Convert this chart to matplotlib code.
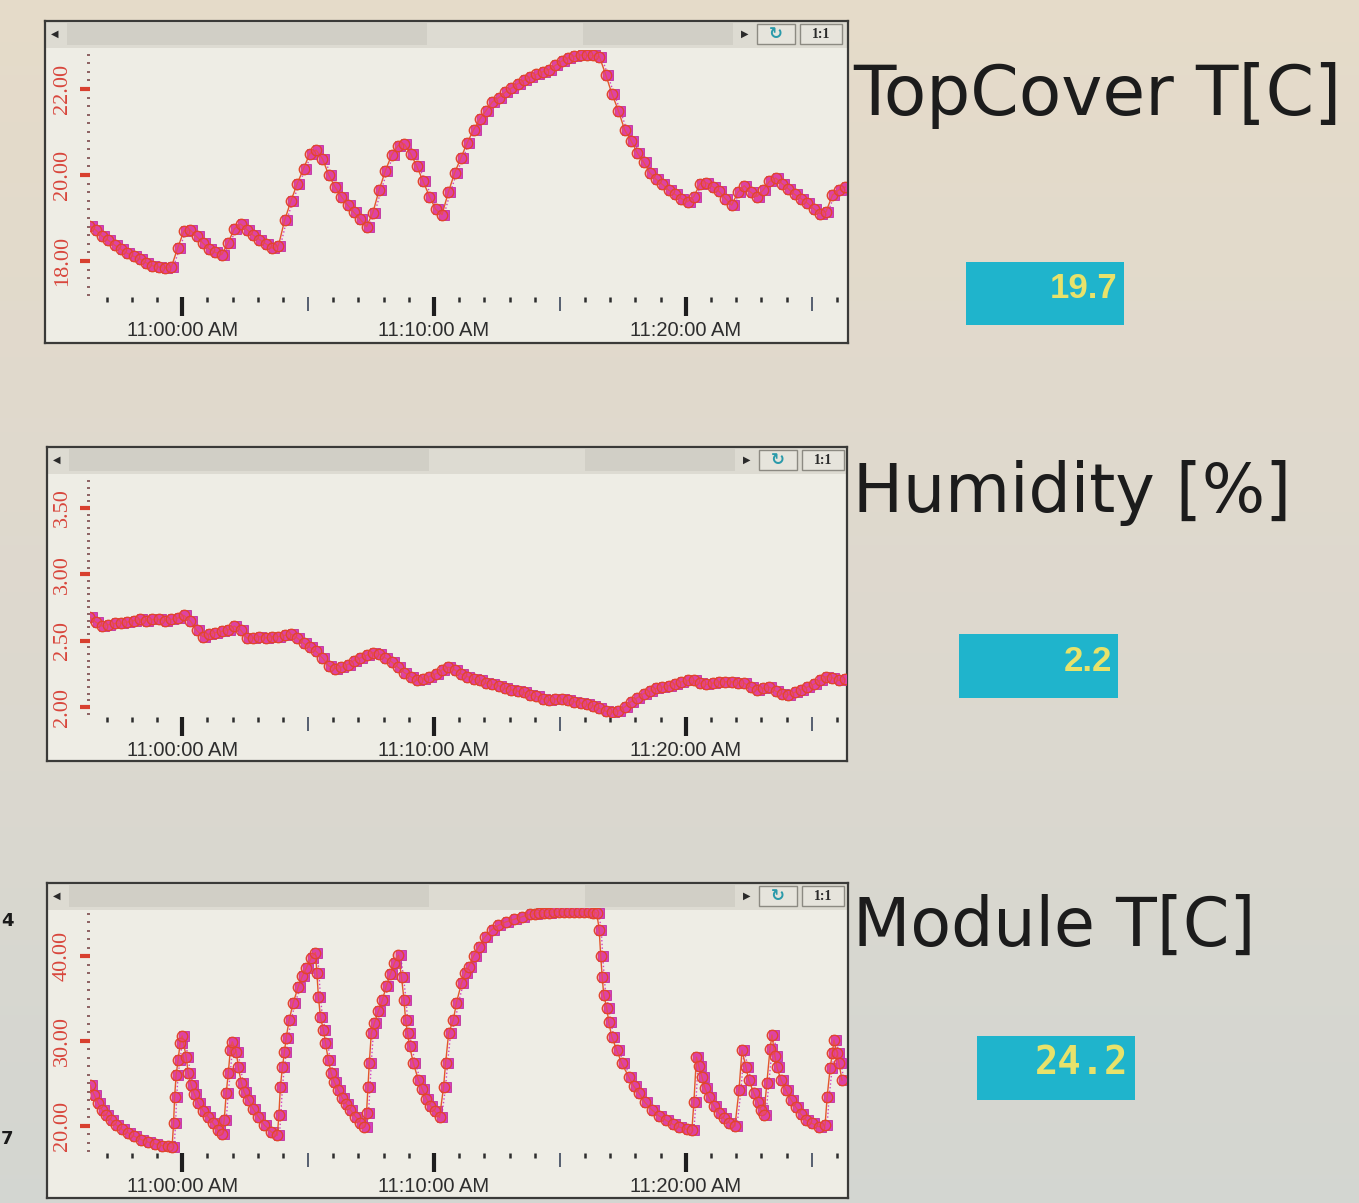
import matplotlib.pyplot as plt
import numpy as np
from matplotlib.patches import Rectangle
from matplotlib.ticker import FixedLocator, FuncFormatter

W, H = 1359, 1203

# slow channels are logged every 15 s; x is minutes after 11:00:00
sample_minutes = np.arange(121) * 0.25 - 3.6

topcover_values = [
    18.82, 18.72, 18.58, 18.48, 18.37, 18.27, 18.18, 18.11, 18.05, 17.96,
    17.89, 17.86, 17.84, 17.86, 18.30, 18.70, 18.72, 18.57, 18.42, 18.28,
    18.20, 18.15, 18.42, 18.75, 18.86, 18.73, 18.60, 18.50, 18.40, 18.30,
    18.35, 18.95, 19.40, 19.80, 20.15, 20.50, 20.58, 20.38, 20.00, 19.72,
    19.50, 19.30, 19.13, 18.97, 18.80, 19.12, 19.65, 20.10, 20.47, 20.68,
    20.72, 20.50, 20.20, 19.85, 19.50, 19.20, 19.08, 19.60, 20.05, 20.40,
    20.75, 21.05, 21.30, 21.50, 21.70, 21.80, 21.92, 22.02, 22.12, 22.20,
    22.28, 22.34, 22.40, 22.45, 22.55, 22.65, 22.72, 22.76, 22.79, 22.78,
    22.78, 22.75, 22.33, 21.88, 21.50, 21.05, 20.80, 20.52, 20.30, 20.05,
    19.90, 19.78, 19.65, 19.55, 19.45, 19.38, 19.50, 19.80, 19.82, 19.73,
    19.62, 19.45, 19.30, 19.60, 19.75, 19.60, 19.50, 19.65, 19.85, 19.93,
    19.80, 19.68, 19.55, 19.45, 19.35, 19.22, 19.10, 19.15, 19.53, 19.65,
    19.72,
]

humidity_values = [
    2.68, 2.64, 2.61, 2.62, 2.63, 2.63, 2.64, 2.65, 2.66, 2.65,
    2.66, 2.66, 2.65, 2.66, 2.67, 2.69, 2.65, 2.58, 2.53, 2.55,
    2.56, 2.57, 2.58, 2.61, 2.58, 2.52, 2.52, 2.53, 2.52, 2.53,
    2.53, 2.54, 2.55, 2.52, 2.48, 2.45, 2.42, 2.37, 2.31, 2.29,
    2.30, 2.32, 2.35, 2.37, 2.39, 2.41, 2.40, 2.37, 2.34, 2.30,
    2.26, 2.23, 2.20, 2.21, 2.23, 2.25, 2.28, 2.30, 2.28, 2.25,
    2.23, 2.21, 2.20, 2.18, 2.17, 2.16, 2.14, 2.13, 2.12, 2.11,
    2.09, 2.08, 2.06, 2.05, 2.06, 2.06, 2.05, 2.04, 2.03, 2.02,
    2.01, 1.99, 1.97, 1.96, 1.97, 2.00, 2.04, 2.07, 2.10, 2.12,
    2.14, 2.15, 2.16, 2.17, 2.19, 2.20, 2.20, 2.18, 2.17, 2.18,
    2.19, 2.19, 2.19, 2.18, 2.18, 2.15, 2.13, 2.14, 2.15, 2.12,
    2.10, 2.09, 2.11, 2.13, 2.15, 2.17, 2.20, 2.23, 2.22, 2.20,
    2.21,
]

# module sensor is logged on change, so its time stamps are irregular
module_minutes = [
    -3.58, -3.42, -3.26, -3.10, -2.94, -2.74, -2.54, -2.31, -2.07, -1.83,
    -1.55, -1.27, -0.99, -0.72, -0.48, -0.32, -0.26, -0.22, -0.16, -0.08,
    0.00, 0.08, 0.24, 0.32, 0.44, 0.56, 0.72, 0.91, 1.11, 1.31,
    1.51, 1.67, 1.75, 1.83, 1.91, 1.99, 2.07, 2.23, 2.31, 2.43,
    2.54, 2.70, 2.90, 3.10, 3.34, 3.62, 3.86, 3.92, 3.98, 4.06,
    4.14, 4.21, 4.33, 4.49, 4.69, 4.85, 5.01, 5.21, 5.37, 5.43,
    5.49, 5.57, 5.69, 5.77, 5.88, 6.00, 6.12, 6.28, 6.44, 6.60,
    6.76, 6.96, 7.16, 7.32, 7.40, 7.46, 7.51, 7.59, 7.71, 7.87,
    8.03, 8.19, 8.35, 8.51, 8.67, 8.79, 8.89, 8.95, 9.03, 9.11,
    9.26, 9.46, 9.62, 9.78, 9.94, 10.10, 10.30, 10.46, 10.54, 10.66,
    10.85, 10.97, 11.17, 11.33, 11.45, 11.65, 11.85, 12.09, 12.37, 12.64,
    12.92, 13.24, 13.56, 13.88, 14.08, 14.23, 14.43, 14.63, 14.83, 15.03,
    15.23, 15.43, 15.63, 15.83, 16.02, 16.22, 16.38, 16.54, 16.64, 16.70,
    16.76, 16.82, 16.94, 17.02, 17.14, 17.34, 17.53, 17.81, 18.01, 18.21,
    18.45, 18.73, 19.01, 19.28, 19.56, 19.80, 20.12, 20.32, 20.40, 20.50,
    20.60, 20.72, 20.83, 20.99, 21.19, 21.39, 21.59, 21.79, 22.03, 22.19,
    22.31, 22.47, 22.58, 22.78, 22.94, 23.06, 23.18, 23.30, 23.42, 23.50,
    23.62, 23.70, 23.86, 24.06, 24.25, 24.45, 24.65, 24.85, 25.09, 25.37,
    25.61, 25.69, 25.81, 25.90, 25.96, 26.08, 26.16, 26.28,
]
module_values = [
    24.8, 23.7, 22.7, 21.9, 21.3, 20.7, 20.1, 19.6, 19.2, 18.8,
    18.4, 18.1, 17.9, 17.7, 17.6, 17.5, 20.4, 23.4, 26.0, 27.8,
    29.8, 30.6, 28.1, 26.2, 24.8, 23.8, 22.7, 21.8, 21.1, 20.3,
    19.5, 19.0, 20.7, 23.9, 26.2, 28.9, 29.9, 28.7, 26.9, 25.1,
    24.0, 23.1, 22.0, 21.1, 20.1, 19.3, 18.9, 21.3, 24.6, 26.9,
    28.7, 30.4, 32.5, 34.5, 36.4, 37.6, 38.6, 39.8, 40.4, 38.0,
    35.2, 32.8, 31.3, 29.8, 27.8, 26.2, 25.2, 24.2, 23.3, 22.6,
    21.9, 21.1, 20.4, 19.9, 21.5, 24.6, 27.4, 30.9, 32.1, 33.5,
    34.8, 36.5, 37.9, 39.2, 40.1, 37.5, 34.8, 32.5, 30.9, 29.4,
    27.4, 25.4, 24.3, 23.2, 22.4, 21.8, 21.0, 24.6, 27.4, 30.9,
    32.5, 34.5, 36.8, 38.0, 38.7, 40.0, 41.1, 42.2, 43.1, 43.6,
    44.0, 44.3, 44.6, 44.9, 45.0, 45.1, 45.1, 45.1, 45.2, 45.2,
    45.2, 45.2, 45.2, 45.2, 45.2, 45.2, 45.1, 45.1, 43.1, 40.0,
    37.5, 35.4, 33.9, 32.2, 30.5, 28.9, 27.4, 25.8, 24.7, 23.9,
    22.8, 21.9, 21.2, 20.7, 20.2, 19.9, 19.6, 19.5, 22.8, 28.1,
    27.0, 25.8, 24.5, 23.4, 22.4, 21.5, 20.9, 20.4, 20.0, 24.2,
    28.9, 26.9, 25.4, 23.9, 22.8, 21.9, 21.3, 25.1, 29.0, 30.7,
    28.2, 26.9, 25.4, 24.2, 23.1, 22.2, 21.4, 20.7, 20.3, 19.9,
    20.1, 23.4, 26.8, 28.6, 30.1, 28.6, 27.4, 25.4,
]

titles = ["TopCover T[C]", "Humidity [%]", "Module T[C]"]
current_values = ["19.7", "2.2", "24.2"]

SQUARE_COLOR = "#d33fc2"
CIRCLE_FACE = (0.93, 0.28, 0.50, 0.45)
CIRCLE_EDGE = "#e2452c"
CIRCLE_LAG = 0.08  # the second logger runs a few seconds ahead


def frac(x0, y0, x1, y1):
    return [x0 / W, 1 - y1 / H, (x1 - x0) / W, (y1 - y0) / H]


def time_label(m, pos):
    return f"11:{int(round(m)):02d}:00 AM"


def draw_frame(fig, box):
    x0, y0, x1, y1 = box
    ax = fig.add_axes(frac(*box))
    ax.set_xlim(x0, x1)
    ax.set_ylim(y1, y0)
    ax.set_facecolor("#eeede5")
    ax.set_xticks([])
    ax.set_yticks([])
    for s in ax.spines.values():
        s.set_color("#3a3a38")
        s.set_linewidth(1.6)
    # scrollbar / toolbar strip
    ax.add_patch(Rectangle((x0, y0), x1 - x0, 27, color="#dddbd2", lw=0))
    ax.add_patch(Rectangle((x0 + 22, y0 + 2), 360, 22, color="#d1cfc6", lw=0))
    ax.add_patch(Rectangle((x0 + 538, y0 + 2), 150, 22, color="#d1cfc6", lw=0))
    ax.text(x0 + 10, y0 + 13, "◀", fontsize=7, ha="center", va="center", color="#2a2a2a")
    ax.text(x0 + 700, y0 + 13, "▶", fontsize=7, ha="center", va="center", color="#2a2a2a")
    ax.add_patch(Rectangle((x0 + 712, y0 + 3), 38, 20, fc="#e6e4dc", ec="#8c8a82", lw=1))
    ax.text(x0 + 731, y0 + 13, "↻", fontsize=12, ha="center", va="center",
            color="#2a9aaa", fontweight="bold")
    ax.add_patch(Rectangle((x0 + 755, y0 + 3), 42, 20, fc="#e6e4dc", ec="#8c8a82", lw=1))
    ax.text(x0 + 776, y0 + 13, "1:1", fontsize=10, ha="center", va="center",
            color="#2a2a2a", fontweight="bold", family="Liberation Serif")
    return ax


def draw_trend(fig, rect, times, values, ylim, major, minor):
    ax = fig.add_axes(frac(*rect))
    ax.set_facecolor("none")
    times = np.asarray(times)
    ax.plot(times, values, ls=":", lw=1.0, color=SQUARE_COLOR, marker="s", ms=7.5,
            mfc=SQUARE_COLOR, mec="#c0309c", mew=0.6, zorder=2)
    ax.plot(times - CIRCLE_LAG, values, ls="-", lw=1.0, color="#e3562c", marker="o",
            ms=7.5, mfc=CIRCLE_FACE, mec=CIRCLE_EDGE, mew=1.0, zorder=3)
    ax.set_xlim(-3.66, 26.36)
    ax.set_ylim(*ylim)
    for s in ax.spines.values():
        s.set_visible(False)

    ax.xaxis.set_major_locator(FixedLocator([0, 10, 20]))
    ax.xaxis.set_major_formatter(FuncFormatter(time_label))
    ax.xaxis.set_minor_locator(FixedLocator([m for m in range(-3, 27) if m % 5]))
    ax.tick_params(axis="x", which="major", length=14, width=3, color="#1e1e1e",
                   labelsize=14.5, labelcolor="#2e2e2e", pad=3,
                   labelfontfamily="Liberation Sans")
    ax.tick_params(axis="x", which="minor", length=3.5, width=1.8, color="#2e2e2e")
    fives = ax.secondary_xaxis("bottom")
    fives.set_xticks([5, 15, 25])
    fives.set_xticklabels([])
    fives.tick_params(length=10, width=1.3, color="#4a5466")
    fives.spines["bottom"].set_visible(False)

    ax.set_yticks(major)
    ax.set_yticklabels([f"{v:.2f}" for v in major], va="center", ha="right")
    ax.set_yticks(minor, minor=True)
    ax.tick_params(axis="y", which="major", length=7, width=3, color="#d8402f",
                   labelcolor="#d8463c", labelsize=16, pad=6, labelrotation=90,
                   labelfontfamily="Liberation Serif")
    ax.tick_params(axis="y", which="minor", length=2.5, width=1.4, color="#8d6262")
    return ax


fig = plt.figure(figsize=(W / 100, H / 100), dpi=100)

bg = fig.add_axes([0, 0, 1, 1])
shade = np.array([[0.90, 0.86, 0.79], [0.87, 0.85, 0.81], [0.83, 0.84, 0.82]])
rows = np.linspace(0, 2, 256)
grad = np.stack([np.interp(rows, [0, 1, 2], shade[:, c]) for c in range(3)], axis=-1)
bg.imshow(grad[:, None, :], extent=[0, W, H, 0], aspect="auto")
bg.set_xlim(0, W)
bg.set_ylim(H, 0)
bg.axis("off")

panels = [
    dict(box=(45, 21, 848, 343), data=(90, 50, 846, 297),
         times=sample_minutes, values=topcover_values, ylim=(17.163, 22.907),
         major=[18, 20, 22], minor=np.arange(17.2, 22.9, 0.2), title_size=50,
         title_y=115, vbox=(966, 262, 1124, 325), vtext=(1117, 298), mono=False),
    dict(box=(47, 447, 847, 761), data=(90, 477, 846, 717),
         times=sample_minutes, values=humidity_values, ylim=(1.925, 3.733),
         major=[2.0, 2.5, 3.0, 3.5], minor=np.arange(1.95, 3.73, 0.05), title_size=48,
         title_y=512, vbox=(959, 634, 1118, 698), vtext=(1112, 671), mono=False),
    dict(box=(47, 883, 848, 1198), data=(90, 908, 846, 1153),
         times=module_minutes, values=module_values, ylim=(16.82, 45.65),
         major=[20, 30, 40], minor=np.arange(17, 46, 1.0), title_size=48,
         title_y=946, vbox=(977, 1036, 1135, 1100), vtext=(1128, 1074), mono=True),
]

for p, title, current in zip(panels, titles, current_values):
    draw_frame(fig, p["box"])
    draw_trend(fig, p["data"], p["times"], p["values"], p["ylim"], p["major"], p["minor"])
    bg.text(853, p["title_y"], title, fontsize=p["title_size"], color="#1c1c1c",
            family="DejaVu Sans", va="baseline", ha="left")
    x0, y0, x1, y1 = p["vbox"]
    bg.add_patch(Rectangle((x0, y0), x1 - x0, y1 - y0, color="#1fb4cc", lw=0))
    if p["mono"]:
        bg.text(*p["vtext"], current, fontsize=28, color="#e8e26a", fontweight="bold",
                family="DejaVu Sans Mono", ha="right", va="baseline")
    else:
        bg.text(*p["vtext"], current, fontsize=25, color="#e8e26a", fontweight="bold",
                family="Liberation Sans", ha="right", va="baseline")

# bits of a neighbouring window at the left edge
bg.text(1, 926, "4", fontsize=13, color="#1a1a1a", ha="left", va="baseline",
        fontweight="bold")
bg.text(1, 1144, "7", fontsize=13, color="#1a1a1a", ha="left", va="baseline",
        fontweight="bold")

fig.savefig("out.png", dpi=100)
